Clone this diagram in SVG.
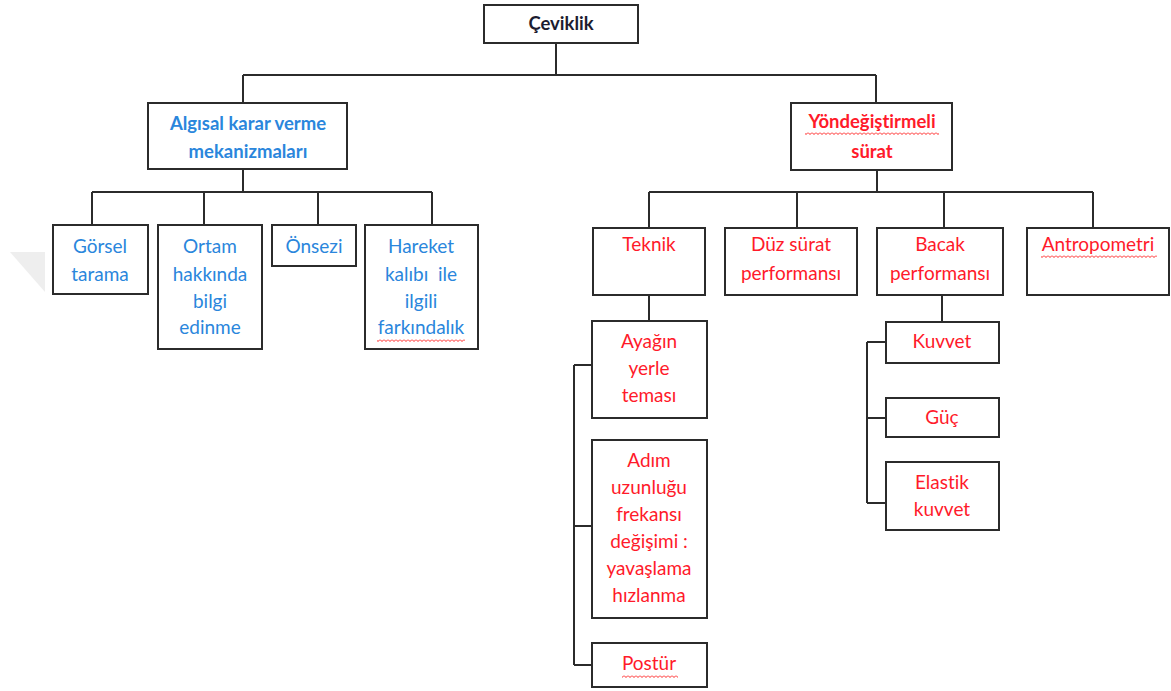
<svg xmlns="http://www.w3.org/2000/svg" width="1171" height="691" viewBox="0 0 1171 691">
<style>
.box{fill:#fff;stroke:#2b2b2b;stroke-width:2}
.ln{fill:none;stroke:#2b2b2b;stroke-width:2}
.t{font-family:Lato,"Liberation Sans",sans-serif;font-size:19px;text-anchor:middle;white-space:pre;font-variant-ligatures:none}
.b{font-weight:bold;font-size:18.5px}
.blue{fill:#2a86dc}
.red{fill:#ff1a2a}
.dark{fill:#1c1c30}
.wv{fill:url(#wavy)}
</style>
<defs>
<pattern id="wavy" patternUnits="userSpaceOnUse" width="4" height="3"><path d="M0,0.5L2,2.5L4,0.5" fill="none" stroke="#ff2020" stroke-width="1"/></pattern>
</defs>
<rect width="1171" height="691" fill="#fff"/>
<polygon points="10,252 45,252 45,292" fill="#eeeeee"/>
<g id="connectors">
<path class="ln" d="M556,43V75M243,75H876M243,75V102M876,75V102"/>
<path class="ln" d="M243,170V192M92,192H432M92,192V225M204,192V225M318,192V225M432,192V225"/>
<path class="ln" d="M877,170V192M649,192H1093M649,192V228M797,192V228M944,192V228M1093,192V228"/>
<path class="ln" d="M649,295V321M574,365V665M574,365H592M574,526H592M574,665H592"/>
<path class="ln" d="M942,295V322M867,342V503M867,342H886M867,418H886M867,503H886"/>
</g>
<g id="n-ceviklik"><rect class="box" x="484" y="5" width="154" height="38"/><text class="t b dark" x="561" y="30" font-size="16">Çeviklik</text></g>
<g id="n-algisal"><rect class="box" x="148" y="103" width="199" height="66"/><text class="t b blue" x="248" y="130" fill="#1f7acc">Algısal karar verme</text><text class="t b blue" x="248" y="158">mekanizmaları</text></g>
<g id="n-yon"><rect class="box" x="791" y="103" width="161" height="67"/><text class="t b red" x="872" y="128">Yöndeğiştirmeli</text><text class="t b red" x="872" y="158">sürat</text><rect class="wv" x="805" y="132" width="134" height="3"/></g>
<g id="n-gorsel"><rect class="box" x="53" y="225" width="95" height="69"/><text class="t blue" x="100" y="253">Görsel</text><text class="t blue" x="100" y="281">tarama</text></g>
<g id="n-ortam"><rect class="box" x="158" y="225" width="104" height="124"/><text class="t blue" x="210" y="253">Ortam</text><text class="t blue" x="210" y="281">hakkında</text><text class="t blue" x="210" y="308">bilgi</text><text class="t blue" x="210" y="334">edinme</text></g>
<g id="n-onsezi"><rect class="box" x="272" y="225" width="84" height="41"/><text class="t blue" x="314" y="253">Önsezi</text></g>
<g id="n-hareket"><rect class="box" x="365" y="225" width="113" height="124"/><text class="t blue" x="421" y="253">Hareket</text><text class="t blue" x="421" y="281">kalıbı  ile</text><text class="t blue" x="421" y="308">ilgili</text><text class="t blue" x="421" y="334">farkındalık</text><rect class="wv" x="377" y="339" width="88" height="3"/></g>
<g id="n-teknik"><rect class="box" x="593" y="228" width="112" height="67"/><text class="t red" x="649" y="251">Teknik</text></g>
<g id="n-duz"><rect class="box" x="725" y="228" width="132" height="67"/><text class="t red" x="791" y="251">Düz sürat</text><text class="t red" x="791" y="280">performansı</text></g>
<g id="n-bacak"><rect class="box" x="877" y="228" width="126" height="67"/><text class="t red" x="940" y="251">Bacak</text><text class="t red" x="940" y="280">performansı</text></g>
<g id="n-antro"><rect class="box" x="1027" y="228" width="142" height="67"/><text class="t red" x="1098" y="251">Antropometri</text><rect class="wv" x="1041" y="255" width="116" height="3"/></g>
<g id="n-ayagin"><rect class="box" x="592" y="321" width="115" height="97"/><text class="t red" x="649" y="348">Ayağın</text><text class="t red" x="649" y="375">yerle</text><text class="t red" x="649" y="402">teması</text></g>
<g id="n-adim"><rect class="box" x="592" y="440" width="115" height="178"/><text class="t red" x="649" y="467">Adım</text><text class="t red" x="649" y="494">uzunluğu</text><text class="t red" x="649" y="521">frekansı</text><text class="t red" x="649" y="548">değişimi :</text><text class="t red" x="649" y="575">yavaşlama</text><text class="t red" x="649" y="602">hızlanma</text></g>
<g id="n-postur"><rect class="box" x="592" y="643" width="115" height="44"/><text class="t red" x="649" y="670">Postür</text><rect class="wv" x="622" y="675" width="56" height="3"/></g>
<g id="n-kuvvet"><rect class="box" x="886" y="322" width="113" height="41"/><text class="t red" x="942" y="348">Kuvvet</text></g>
<g id="n-guc"><rect class="box" x="886" y="398" width="113" height="39"/><text class="t red" x="942" y="424">Güç</text></g>
<g id="n-elastik"><rect class="box" x="886" y="462" width="113" height="68"/><text class="t red" x="942" y="489">Elastik</text><text class="t red" x="942" y="516">kuvvet</text></g>
</svg>
